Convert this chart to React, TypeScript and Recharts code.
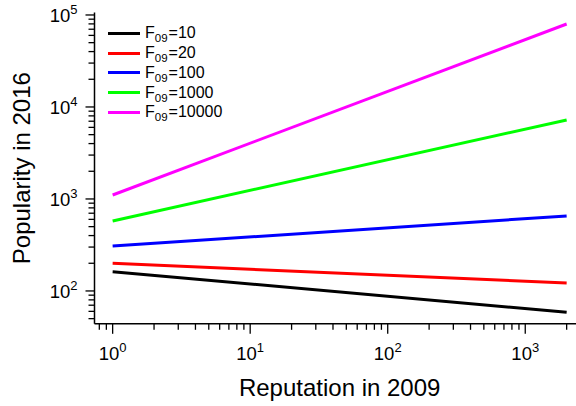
import { LineChart, Line, XAxis, YAxis, Legend } from "recharts";

const reputation = [1, 2000];
const popF10 = [162, 58.6];
const popF20 = [200, 122];
const popF100 = [308, 653];
const popF1000 = [577, 7230];
const popF10000 = [1104, 79800];
const followers09 = ["10", "20", "100", "1000", "10000"];
const colors = ["#000000", "#ff0000", "#0000ff", "#00ff00", "#ff00ff"];

const xTicks = [
  0.8, 0.9, 1, 2, 3, 4, 5, 6, 7, 8, 9, 10, 20, 30, 40, 50, 60, 70, 80, 90, 100, 200, 300, 400, 500,
  600, 700, 800, 900, 1000, 2000,
];
const xMajor = [1, 10, 100, 1000];
const yTicks = [
  50, 60, 70, 80, 90, 100, 200, 300, 400, 500, 600, 700, 800, 900, 1000, 2000, 3000, 4000, 5000,
  6000, 7000, 8000, 9000, 10000, 20000, 30000, 40000, 50000, 60000, 70000, 80000, 90000, 100000,
];
const yMajor = [100, 1000, 10000, 100000];

const xDomain = [0.738, 2710];
const yDomain = [43.95, 106400];

const font = "'Liberation Sans', Arial, Helvetica, sans-serif";

const series = [popF10, popF20, popF100, popF1000, popF10000].map((vals, i) => ({
  name: followers09[i],
  color: colors[i],
  data: reputation.map((r, j) => ({ rep: r, pop: vals[j] })),
}));

const XTick = (props: any) => {
  const { x, y, payload } = props;
  const exp = xMajor.indexOf(payload.value);
  const major = exp >= 0;
  return (
    <g>
      <line x1={x} x2={x} y1={y} y2={y + (major ? 10 : 6)} stroke="#000" strokeWidth={1.3} />
      {major && (
        <text x={x} y={y + 36} textAnchor="middle" fontSize={18.5} fontFamily={font} fill="#000">
          10
          <tspan dy={-8} fontSize={13}>
            {exp}
          </tspan>
        </text>
      )}
    </g>
  );
};

const YTick = (props: any) => {
  const { x, y, payload } = props;
  const idx = yMajor.indexOf(payload.value);
  const major = idx >= 0;
  return (
    <g>
      <line x1={x} x2={x - (major ? 9 : 6)} y1={y} y2={y} stroke="#000" strokeWidth={1.3} />
      {major && (
        <text x={x - 17} y={y + 7} textAnchor="end" fontSize={18.5} fontFamily={font} fill="#000">
          10
          <tspan dy={-8} fontSize={13}>
            {idx + 2}
          </tspan>
        </text>
      )}
    </g>
  );
};

const LegendBox = () => (
  <div style={{ fontFamily: font, fontSize: 16, color: "#000" }}>
    {series.map((s) => (
      <div key={s.name} style={{ display: "flex", alignItems: "center", height: 19.8 }}>
        <span style={{ display: "inline-block", width: 32, height: 3, background: s.color, marginRight: 5 }} />
        <span style={{ whiteSpace: "nowrap" }}>
          F
          <span style={{ fontSize: 11.5, position: "relative", top: 4 }}>09</span>
          <span style={{ marginLeft: 1 }}>={s.name}</span>
        </span>
      </div>
    ))}
  </div>
);

export default function App() {
  return (
    <div
      style={{
        position: "absolute",
        left: 0,
        top: 0,
        width: 576,
        height: 406,
        overflow: "hidden",
        background: "#fff",
      }}
    >
      <LineChart width={600} height={406} margin={{ top: 12.5, right: 15.2, bottom: 0, left: 0 }}>
        <XAxis
          dataKey="rep"
          type="number"
          scale="log"
          domain={xDomain}
          allowDataOverflow
          ticks={xTicks}
          interval={0}
          tick={<XTick />}
          tickLine={false}
          tickSize={0}
          tickMargin={0}
          height={82.2}
          axisLine={{ stroke: "#000", strokeWidth: 1.5 }}
          label={{
            content: (p: any) => (
              <text
                x={p.viewBox.x + p.viewBox.width / 2}
                y={p.viewBox.y + 72}
                textAnchor="middle"
                fontSize={24}
                fontFamily={font}
                fill="#000"
              >
                Reputation in 2009
              </text>
            ),
          }}
        />
        <XAxis
          xAxisId="top"
          orientation="top"
          type="number"
          scale="log"
          domain={xDomain}
          allowDataOverflow
          tick={false}
          tickLine={false}
          height={0}
          axisLine={{ stroke: "#333", strokeWidth: 1.5 }}
        />
        <YAxis
          type="number"
          scale="log"
          domain={yDomain}
          allowDataOverflow
          ticks={yTicks}
          interval={0}
          tick={<YTick />}
          tickLine={false}
          tickSize={0}
          tickMargin={0}
          width={94.5}
          axisLine={{ stroke: "#000", strokeWidth: 1.5 }}
          label={{
            content: (p: any) => {
              const cx = p.viewBox.x + 30;
              const cy = p.viewBox.y + p.viewBox.height / 2;
              return (
                <text
                  x={cx}
                  y={cy}
                  transform={`rotate(-90 ${cx} ${cy})`}
                  textAnchor="middle"
                  fontSize={24}
                  fontFamily={font}
                  fill="#000"
                >
                  Popularity in 2016
                </text>
              );
            },
          }}
        />
        <Legend
          layout="vertical"
          align="center"
          verticalAlign="middle"
          content={<LegendBox />}
          wrapperStyle={{ left: 108, top: 23.4, width: "auto", height: "auto" }}
        />
        {series.map((s) => (
          <Line
            key={s.name}
            data={s.data}
            dataKey="pop"
            name={s.name}
            stroke={s.color}
            strokeWidth={3}
            dot={false}
            isAnimationActive={false}
          />
        ))}
      </LineChart>
    </div>
  );
}
